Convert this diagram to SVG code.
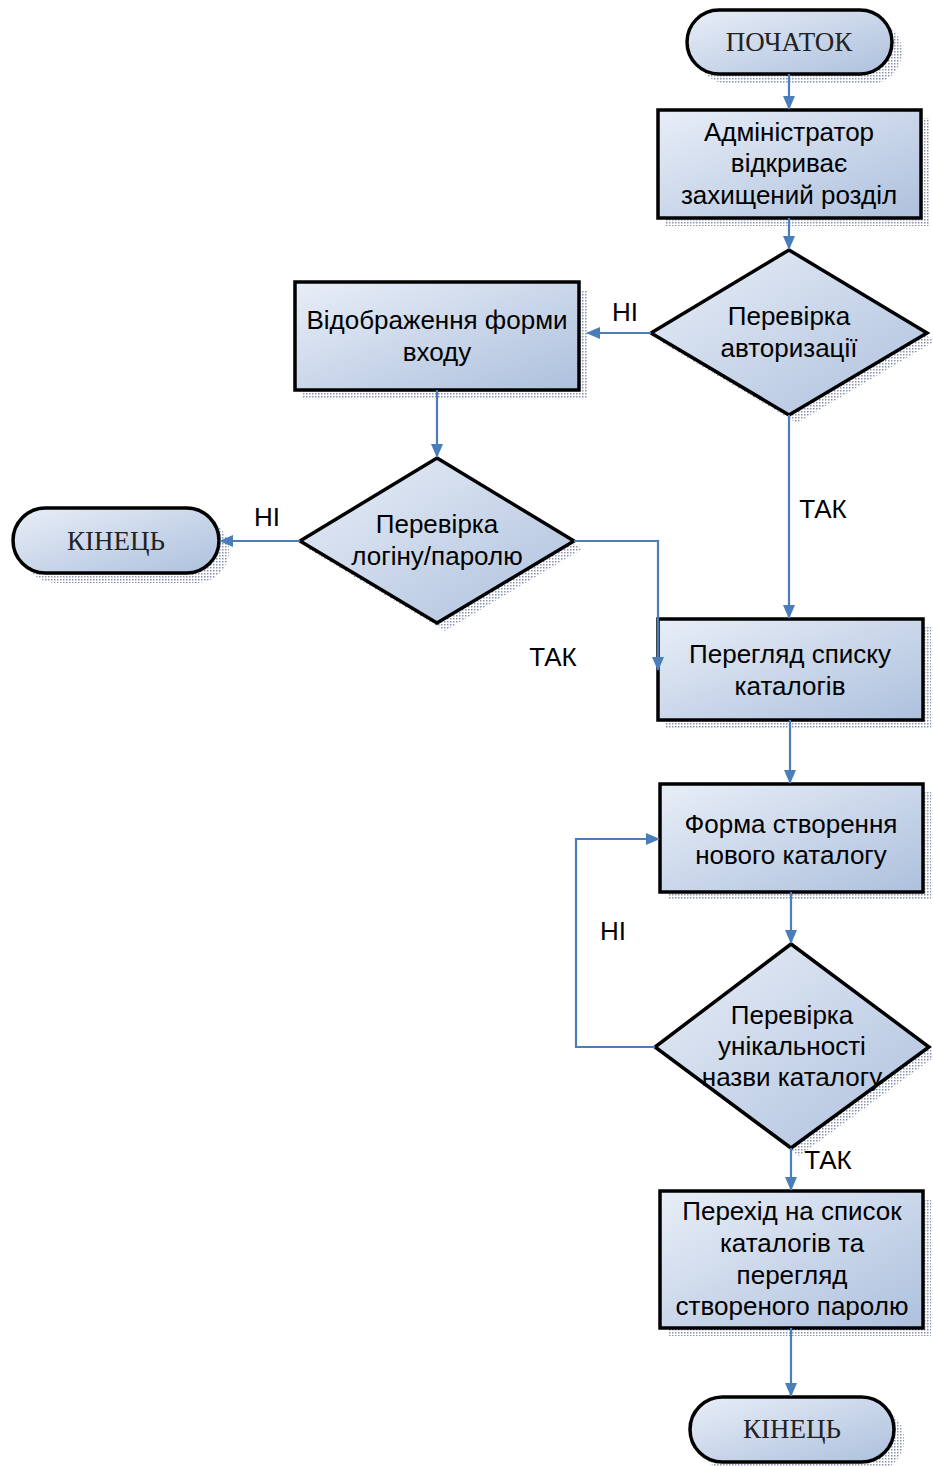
<svg xmlns="http://www.w3.org/2000/svg" width="933" height="1466" viewBox="0 0 933 1466">
<defs>
<linearGradient id="g" x1="0" y1="0" x2="1" y2="1">
<stop offset="0" stop-color="#e8eef7"/>
<stop offset="1" stop-color="#adc0dd"/>
</linearGradient>
<pattern id="dots" width="3" height="3" patternUnits="userSpaceOnUse">
<rect width="3" height="3" fill="#ffffff"/>
<rect width="1.5" height="1.5" fill="#6f7d9f"/>
</pattern>
<marker id="arr" markerWidth="14" markerHeight="14" refX="13" refY="7" orient="auto" markerUnits="userSpaceOnUse">
<path d="M0,1 L14,7 L0,13 Z" fill="#4a7ebb"/>
</marker>
</defs>
<style>
.sh{fill:url(#dots);opacity:0.85}
.n{fill:url(#g);stroke:#000;stroke-width:3.5;stroke-linejoin:miter}
.t{font-family:"Liberation Sans",Arial,sans-serif;font-size:26px;fill:#000;text-anchor:middle}
.s{font-family:"Liberation Serif","Times New Roman",serif;font-size:27px;fill:#222;text-anchor:middle}
.c{fill:none;stroke:#4a7ebb;stroke-width:2.2}
.l{font-family:"Liberation Sans",Arial,sans-serif;font-size:26px;fill:#000;text-anchor:middle}
</style>

<g id="start">
<rect class="sh" x="697" y="20" width="205" height="64" rx="32"/>
<rect class="n" x="687" y="10" width="205" height="64" rx="32"/>
<text class="s" x="789" y="51">ПОЧАТОК</text>
</g>

<g id="admin">
<rect class="sh" x="666" y="118" width="263" height="108"/>
<rect class="n" x="658" y="110" width="263" height="108"/>
<text class="t" x="789" y="141">Адміністратор</text>
<text class="t" x="789" y="172">відкриває</text>
<text class="t" x="789" y="204">захищений розділ</text>
</g>

<g id="check-auth">
<polygon class="sh" points="797,258 935,341 797,423 659,341"/>
<polygon class="n" points="789,250 927,333 789,415 651,333"/>
<text class="t" x="789" y="325">Перевірка</text>
<text class="t" x="789" y="357">авторизації</text>
</g>

<g id="login-form">
<rect class="sh" x="303" y="290" width="284" height="108"/>
<rect class="n" x="295" y="282" width="284" height="108"/>
<text class="t" x="437" y="329">Відображення форми</text>
<text class="t" x="437" y="361">входу</text>
</g>

<g id="check-login">
<polygon class="sh" points="445,466 582,549 445,631 308,549"/>
<polygon class="n" points="437,458 574,541 437,623 300,541"/>
<text class="t" x="437" y="533">Перевірка</text>
<text class="t" x="437" y="565">логіну/паролю</text>
</g>

<g id="end1">
<rect class="sh" x="23" y="518" width="206" height="65" rx="32.5"/>
<rect class="n" x="13" y="508" width="206" height="65" rx="32.5"/>
<text class="s" x="116" y="550">КІНЕЦЬ</text>
</g>

<g id="catalog-list">
<rect class="sh" x="666" y="627" width="265" height="101"/>
<rect class="n" x="658" y="619" width="265" height="101"/>
<text class="t" x="790" y="663">Перегляд списку</text>
<text class="t" x="790" y="695">каталогів</text>
</g>

<g id="create-form">
<rect class="sh" x="668" y="792" width="263" height="108"/>
<rect class="n" x="660" y="784" width="263" height="108"/>
<text class="t" x="791" y="833">Форма створення</text>
<text class="t" x="791" y="864">нового каталогу</text>
</g>

<g id="check-unique">
<polygon class="sh" points="799,952 937,1055 799,1156 663,1055"/>
<polygon class="n" points="791,944 929,1047 791,1148 655,1047"/>
<text class="t" x="792" y="1024">Перевірка</text>
<text class="t" x="792" y="1055">унікальності</text>
<text class="t" x="792" y="1086">назви каталогу</text>
</g>

<g id="goto-list">
<rect class="sh" x="668" y="1199" width="263" height="137"/>
<rect class="n" x="660" y="1191" width="263" height="137"/>
<text class="t" x="792" y="1220">Перехід на список</text>
<text class="t" x="792" y="1252">каталогів та</text>
<text class="t" x="792" y="1284">перегляд</text>
<text class="t" x="792" y="1315">створеного паролю</text>
</g>

<g id="end2">
<rect class="sh" x="700" y="1407" width="204" height="65" rx="32.5"/>
<rect class="n" x="690" y="1397" width="204" height="65" rx="32.5"/>
<text class="s" x="792" y="1438">КІНЕЦЬ</text>
</g>

<g id="connectors">
<path class="c" d="M789,74 V109" marker-end="url(#arr)"/>
<path class="c" d="M789,218 V249" marker-end="url(#arr)"/>
<path class="c" d="M651,333 H587" marker-end="url(#arr)"/>
<path class="c" d="M437,390 V457" marker-end="url(#arr)"/>
<path class="c" d="M300,541 H220" marker-end="url(#arr)"/>
<path class="c" d="M574,541 H658 V670" marker-end="url(#arr)"/>
<path class="c" d="M789,415 V618" marker-end="url(#arr)"/>
<path class="c" d="M790,720 V783" marker-end="url(#arr)"/>
<path class="c" d="M791,892 V943" marker-end="url(#arr)"/>
<path class="c" d="M655,1047 H576 V839 H659" marker-end="url(#arr)"/>
<path class="c" d="M791,1148 V1190" marker-end="url(#arr)"/>
<path class="c" d="M791,1328 V1396" marker-end="url(#arr)"/>
<text class="l" x="625" y="321">НІ</text>
<text class="l" x="267" y="526">НІ</text>
<text class="l" x="823" y="518">ТАК</text>
<text class="l" x="553" y="666">ТАК</text>
<text class="l" x="613" y="940">НІ</text>
<text class="l" x="828" y="1169">ТАК</text>
</g>
</svg>
